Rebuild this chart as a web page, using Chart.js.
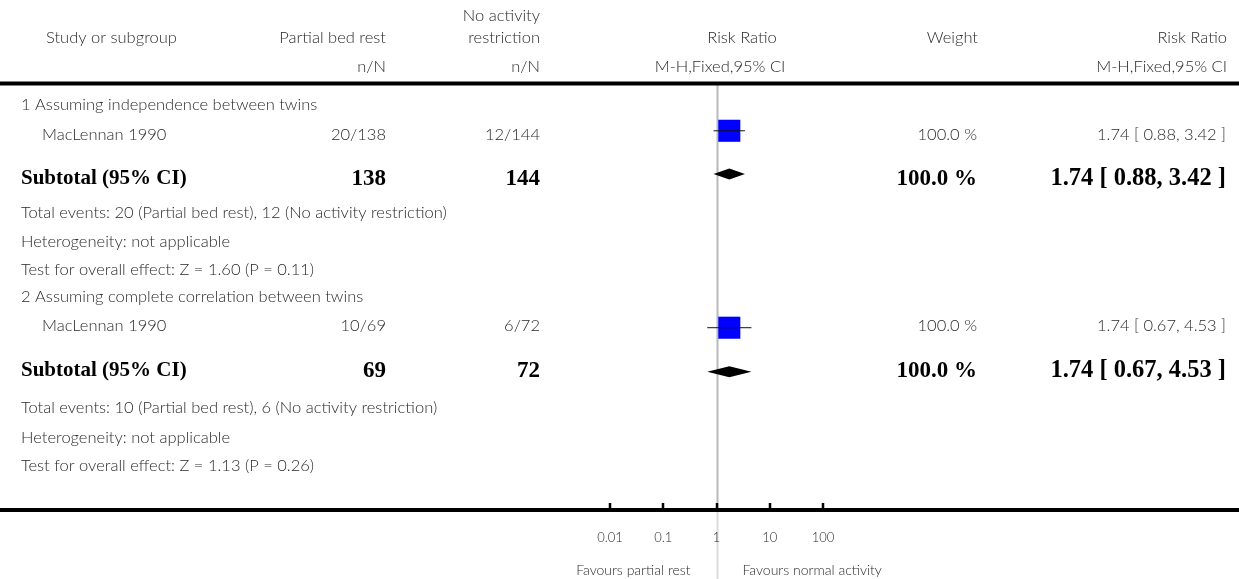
<!DOCTYPE html>
<html>
<head>
<meta charset="utf-8">
<script src="https://cdn.jsdelivr.net/npm/chart.js@4.4.1/dist/chart.umd.min.js"></script>
<style>
  html, body { margin: 0; padding: 0; background: #ffffff; }
  #wrap { width: 1239px; height: 579px; position: relative; }
</style>
</head>
<body>
<div id="wrap"><canvas id="forest"></canvas></div>
<script>
// Subgroups and their single trial
const groupTitles = ['1 Assuming independence between twins', '2 Assuming complete correlation between twins'];
const studyNames = ['MacLennan 1990', 'MacLennan 1990'];
const bedRestEvents = [20, 10];
const bedRestTotals = [138, 69];
const controlEvents = [12, 6];
const controlTotals = [144, 72];
const studyRR = [1.74, 1.74];
const studyLow = [0.88, 0.67];
const studyHigh = [3.42, 4.53];
const studyWeight = [100.0, 100.0];
// Pooled estimates per subgroup
const subtotalRR = [1.74, 1.74];
const subtotalLow = [0.88, 0.67];
const subtotalHigh = [3.42, 4.53];
const subtotalWeight = [100.0, 100.0];
const zStat = [1.60, 1.13];
const pValue = [0.11, 0.26];
// Axis
const axisTicks = [0.01, 0.1, 1, 10, 100];
const axisTickLabels = ['0.01', '0.1', '1', '10', '100'];

// Vertical slots (row units) of the lines in each subgroup block:
// title, study, subtotal, events, heterogeneity, overall test
const TEXT_ROWS = [
  [0, 1.02, 2.57, 3.75, 4.76, 5.74],
  [6.69, 7.68, 9.27, 10.56, 11.6, 12.57]
];
// slots of the study square and the pooled diamond in each block
const MARK_ROWS = [
  [0.9, 2.41],
  [7.76, 9.29]
];

const SANS = '"Lato", "Open Sans", sans-serif';
const SERIF = '"Liberation Serif", "Times New Roman", serif';
const TEXT = '#2a2a2a';

const COL = { label: 21, study: 42, trt: 386, ctl: 540, weight: 977, rr: 1226 };

const fmt2 = v => v.toFixed(2);
const ciText = (m, l, h) => `${fmt2(m)} [ ${fmt2(l)}, ${fmt2(h)} ]`;

// Datasets: confidence-interval whiskers and weighted squares
const datasets = [];
studyRR.forEach((rr, i) => {
  const y = MARK_ROWS[i][0];
  datasets.push({
    type: 'line',
    data: [{ x: studyLow[i], y }, { x: studyHigh[i], y }],
    borderColor: '#111111',
    borderWidth: 1,
    pointRadius: 0,
    fill: false,
    order: 0
  });
});
datasets.push({
  type: 'scatter',
  data: studyRR.map((rr, i) => ({ x: rr, y: MARK_ROWS[i][0] })),
  pointStyle: 'rect',
  pointRadius: 15.6,
  pointHoverRadius: 15.6,
  backgroundColor: '#0000ff',
  borderColor: '#0000ff',
  borderWidth: 0,
  order: 1
});

const forestPlugin = {
  id: 'forestPlugin',
  beforeDraw(chart) {
    const { ctx, chartArea, scales: { x } } = chart;
    const x1 = Math.round(x.getPixelForValue(1)) + 0.5;
    const axisY = chartArea.bottom;
    ctx.save();
    // line of no effect
    ctx.lineWidth = 2;
    ctx.strokeStyle = '#b9b9b9';
    ctx.beginPath();
    ctx.moveTo(x1, chartArea.top - 5);
    ctx.lineTo(x1, axisY);
    ctx.stroke();
    ctx.strokeStyle = '#dcdcdc';
    ctx.beginPath();
    ctx.moveTo(x1, axisY);
    ctx.lineTo(x1, chart.height);
    ctx.stroke();
    ctx.restore();
  },
  beforeDatasetsDraw(chart) {
    const { ctx, chartArea, scales: { x } } = chart;
    const axisY = chartArea.bottom;
    ctx.save();
    // header rule and axis rule across the whole width
    ctx.strokeStyle = '#000000';
    ctx.lineWidth = 4;
    ctx.beginPath();
    ctx.moveTo(0, chartArea.top - 4.5);
    ctx.lineTo(chart.width, chartArea.top - 4.5);
    ctx.stroke();
    ctx.beginPath();
    ctx.moveTo(0, axisY);
    ctx.lineTo(chart.width, axisY);
    ctx.stroke();
    // tick marks pointing up
    ctx.lineWidth = 2.5;
    axisTicks.forEach(v => {
      const px = Math.round(x.getPixelForValue(v));
      ctx.beginPath();
      ctx.moveTo(px, axisY - 7);
      ctx.lineTo(px, axisY);
      ctx.stroke();
    });
    ctx.restore();
  },
  afterDatasetsDraw(chart) {
    const { ctx, scales: { x, y } } = chart;
    ctx.save();
    ctx.fillStyle = '#000000';
    subtotalRR.forEach((rr, i) => {
      const py = y.getPixelForValue(MARK_ROWS[i][1]);
      const xl = x.getPixelForValue(subtotalLow[i]);
      const xm = x.getPixelForValue(rr);
      const xh = x.getPixelForValue(subtotalHigh[i]);
      ctx.beginPath();
      ctx.moveTo(xl, py);
      ctx.lineTo(xm, py - 5.5);
      ctx.lineTo(xh, py);
      ctx.lineTo(xm, py + 5.5);
      ctx.closePath();
      ctx.fill();
    });
    ctx.restore();
  },
  afterDraw(chart) {
    const { ctx, scales: { x, y } } = chart;
    const put = (s, px, py, align, font, color) => {
      ctx.font = font;
      ctx.fillStyle = color || TEXT;
      ctx.textAlign = align;
      ctx.textBaseline = 'middle';
      ctx.fillText(s, px, py);
    };
    const norm = '300 16.5px ' + SANS;
    const boldLabel = 'bold 21px ' + SERIF;
    const boldNum = 'bold 23px ' + SERIF;
    const boldCI = 'bold 24.5px ' + SERIF;
    ctx.save();
    // column headers
    put('Study or subgroup', 46, 38, 'left', norm);
    put('Partial bed rest', COL.trt, 38, 'right', norm);
    put('No activity', COL.ctl, 16, 'right', norm);
    put('restriction', COL.ctl, 38, 'right', norm);
    put('n/N', COL.trt, 67, 'right', norm);
    put('n/N', COL.ctl, 67, 'right', norm);
    put('Risk Ratio', 742, 38, 'center', norm);
    put('M-H,Fixed,95% CI', 720, 67, 'center', norm);
    put('Weight', COL.weight + 1, 38, 'right', norm);
    put('Risk Ratio', COL.rr + 1, 38, 'right', norm);
    put('M-H,Fixed,95% CI', COL.rr + 1, 67, 'right', norm);

    groupTitles.forEach((title, i) => {
      const rows = TEXT_ROWS[i];
      const yp = k => y.getPixelForValue(rows[k]);
      put(title, COL.label, yp(0), 'left', norm);
      put(studyNames[i], COL.study, yp(1), 'left', norm);
      put(`${bedRestEvents[i]}/${bedRestTotals[i]}`, COL.trt, yp(1), 'right', norm);
      put(`${controlEvents[i]}/${controlTotals[i]}`, COL.ctl, yp(1), 'right', norm);
      put(`${studyWeight[i].toFixed(1)} %`, COL.weight, yp(1), 'right', norm);
      put(ciText(studyRR[i], studyLow[i], studyHigh[i]), COL.rr, yp(1), 'right', norm);

      put('Subtotal (95% CI)', COL.label, yp(2), 'left', boldLabel, '#000');
      put(String(bedRestTotals[i]), COL.trt, yp(2), 'right', boldNum, '#000');
      put(String(controlTotals[i]), COL.ctl, yp(2), 'right', boldNum, '#000');
      put(`${subtotalWeight[i].toFixed(1)} %`, COL.weight, yp(2), 'right', boldNum, '#000');
      put(ciText(subtotalRR[i], subtotalLow[i], subtotalHigh[i]), COL.rr, yp(2), 'right', boldCI, '#000');

      put(`Total events: ${bedRestEvents[i]} (Partial bed rest), ${controlEvents[i]} (No activity restriction)`, COL.label, yp(3), 'left', norm);
      put('Heterogeneity: not applicable', COL.label, yp(4), 'left', norm);
      put(`Test for overall effect: Z = ${fmt2(zStat[i])} (P = ${fmt2(pValue[i])})`, COL.label, yp(5), 'left', norm);
    });

    // favours captions either side of the line of no effect
    const x1 = x.getPixelForValue(1);
    put('Favours partial rest', x1 - 26, 570, 'right', '300 14px ' + SANS);
    put('Favours normal activity', x1 + 26, 570, 'left', '300 14px ' + SANS);
    ctx.restore();
  }
};

new Chart(document.getElementById('forest'), {
  type: 'scatter',
  data: { datasets },
  options: {
    responsive: true,
    maintainAspectRatio: false,
    animation: false,
    devicePixelRatio: 1,
    events: [],
    layout: { padding: { left: 610, right: 416, top: 88, bottom: 13.4 } },
    plugins: { legend: { display: false }, tooltip: { enabled: false } },
    scales: {
      x: {
        type: 'logarithmic',
        min: 0.01,
        max: 100,
        grid: { display: false, drawTicks: false },
        border: { display: false },
        afterBuildTicks: scale => { scale.ticks = axisTicks.map(v => ({ value: v })); },
        ticks: {
          padding: 20,
          color: '#2a2a2a',
          font: { family: SANS, size: 13, weight: '300' },
          maxRotation: 0,
          autoSkip: false,
          callback: (value, index) => axisTickLabels[index]
        }
      },
      y: {
        type: 'linear',
        reverse: true,
        min: -0.59,
        max: 14.11,
        display: false
      }
    }
  },
  plugins: [forestPlugin]
});
</script>
</body>
</html>
